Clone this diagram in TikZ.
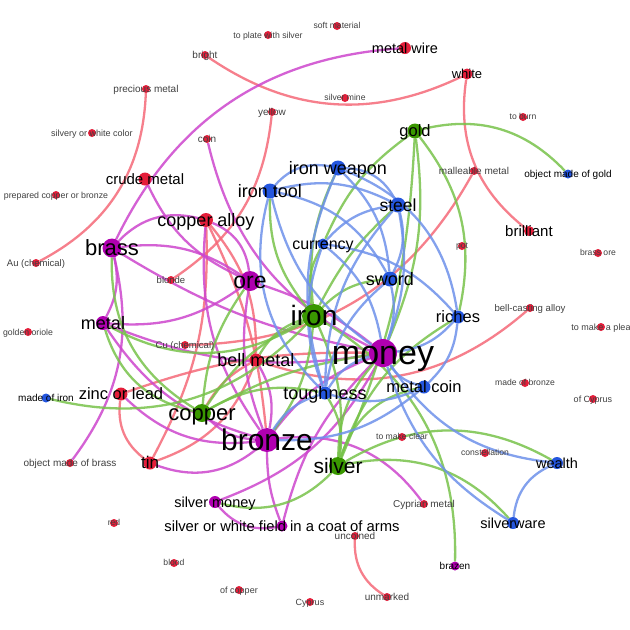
\documentclass[tikz,border=0pt]{standalone}
\usepackage{fontspec}
\setmainfont{Liberation Sans}
\definecolor{nR}{RGB}{228,30,58}
\definecolor{nM}{RGB}{176,0,176}
\definecolor{nG}{RGB}{58,152,0}
\definecolor{nB}{RGB}{36,86,222}
\definecolor{eR}{RGB}{245,105,120}
\definecolor{eM}{RGB}{205,70,205}
\definecolor{eG}{RGB}{120,195,75}
\definecolor{eB}{RGB}{110,145,235}
\pgfdeclarelayer{bg}\pgfdeclarelayer{fg}\pgfsetlayers{bg,main,fg}
\tikzset{
  lab/.style={inner sep=0pt,text=black},
  slab/.style={inner sep=0pt,text=black!75},
  edR/.style={draw=eR,line width=2.3pt,draw opacity=0.85},
  edM/.style={draw=eM,line width=2.3pt,draw opacity=0.85},
  edG/.style={draw=eG,line width=2.3pt,draw opacity=0.85},
  edB/.style={draw=eB,line width=2.3pt,draw opacity=0.85},
}
\newcommand\gnode[7]{%
  \node[circle,fill=#4,minimum size=#5pt,inner sep=0pt] (#1) at (#2,#3) {};
  \begin{pgfonlayer}{fg}\node[lab,font=\fontsize{#6}{#6}\selectfont,text height={0.905*#6pt},text depth={0.212*#6pt}] (#1-l) at (#2,#3) {#7};\end{pgfonlayer}}
\newcommand\snode[5]{%
  \node[circle,fill=nR,minimum size=8pt,inner sep=0pt] (#1) at (#2,#3) {};
  \begin{pgfonlayer}{fg}\node[slab,font=\fontsize{#4}{#4}\selectfont,text height={0.905*#4pt},text depth={0.212*#4pt}] (#1-l) at (#2,#3) {#5};\end{pgfonlayer}}
\begin{document}
\begin{tikzpicture}[x=1pt,y=-1pt]
\begin{pgfonlayer}{bg}
\fill[white] (0,0) rectangle (630,630);
\end{pgfonlayer}
\useasboundingbox (0,0) rectangle (630,630);
% big nodes
\gnode{money}{383}{353}{nM}{28}{34}{money}
\gnode{iron}{314}{316}{nG}{24}{28}{iron}
\gnode{bronze}{267}{440}{nM}{24}{30}{bronze}
\gnode{copper}{202}{413}{nG}{18}{22}{copper}
\gnode{silver}{338}{466}{nG}{18}{21}{silver}
\gnode{gold}{415}{131}{nG}{15}{16.5}{gold}
\gnode{ironweapon}{338}{168}{nB}{15}{18}{iron weapon}
\gnode{irontool}{270}{191}{nB}{15}{18}{iron tool}
\gnode{steel}{398}{205}{nB}{15}{17.5}{steel}
\gnode{currency}{323}{244}{nB}{11}{16}{currency}
\gnode{sword}{390}{279}{nB}{15}{18}{sword}
\gnode{riches}{458}{317}{nB}{13}{16.5}{riches}
\gnode{metalcoin}{424}{387}{nB}{13}{16.5}{metal coin}
\gnode{toughness}{325}{393}{nB}{13}{18}{toughness}
\gnode{wealth}{557}{463}{nB}{12}{14.5}{wealth}
\gnode{silverware}{513}{523}{nB}{12}{14.5}{silverware}
\gnode{objgold}{568}{174}{nB}{9}{10}{object made of gold}
\gnode{madeiron}{46}{398}{nB}{9}{10}{made of iron}
\gnode{brass}{112}{248}{nM}{19}{22}{brass}
\gnode{ore}{250}{281}{nM}{20}{23}{ore}
\gnode{metal}{103}{323}{nM}{14}{18}{metal}
\gnode{silvermoney}{215}{502}{nM}{12}{14.5}{silver money}
\gnode{field}{282}{526}{nM}{11}{14.8}{silver or white field in a coat of arms}
\gnode{brazen}{455}{566}{nM}{9}{10}{brazen}
\gnode{copperalloy}{206}{220}{nR}{14}{18}{copper alloy}
\gnode{crude}{145}{179}{nR}{13}{15}{crude metal}
\gnode{bellmetal}{256}{360}{nR}{13}{18}{bell metal}
\gnode{zinc}{121}{394}{nR}{13}{16.5}{zinc or lead}
\gnode{tin}{150}{463}{nR}{13}{17}{tin}
\gnode{metalwire}{405}{48}{nR}{12}{14.5}{metal wire}
\gnode{white}{467}{74}{nR}{11}{13}{white}
\gnode{brilliant}{529}{231}{nR}{10}{15}{brilliant}
% small nodes
\snode{blonde}{171}{280}{9.5}{blonde}
\snode{cu}{185}{345}{9.5}{Cu (chemical)}
\snode{au}{36}{263}{9.5}{Au (chemical)}
\snode{oriole}{28}{332}{8.7}{golden oriole}
\snode{prepared}{56}{195}{8.8}{prepared copper or bronze}
\snode{silvery}{92}{133}{9}{silvery or white color}
\snode{precious}{146}{89}{10}{precious metal}
\snode{bright}{205}{55}{10}{bright}
\snode{plate}{268}{35}{8.7}{to plate with silver}
\snode{soft}{337}{26}{8.6}{soft material}
\snode{silvermine}{345}{98}{8.6}{silver mine}
\snode{yellow}{272}{112}{10}{yellow}
\snode{coin}{207}{139}{10}{coin}
\snode{burn}{523}{117}{8.6}{to burn}
\snode{malleable}{474}{171}{10}{malleable metal}
\snode{pot}{462}{246}{8.6}{pot}
\snode{brassore}{598}{253}{8.6}{brass ore}
\snode{bellcasting}{530}{308}{9.6}{bell-casting alloy}
\snode{plea}{601}{327}{9}{to make a plea}
\snode{madebronze}{525}{383}{8.6}{made of bronze}
\snode{ofcyprus}{593}{399}{9}{of Cyprus}
\snode{makeclear}{402}{437}{8.6}{to make clear}
\snode{constellation}{485}{453}{8.6}{constellation}
\snode{cyprian}{424}{504}{10}{Cyprian metal}
\snode{uncoined}{355}{536}{10}{uncoined}
\snode{unmarked}{387}{597}{10}{unmarked}
\snode{red}{114}{523}{8.6}{red}
\snode{blood}{174}{563}{8.6}{blood}
\snode{ofcopper}{239}{590}{9}{of copper}
\snode{cyprus}{310}{602}{9}{Cyprus}
\snode{objbrass}{70}{463}{10}{object made of brass}
\begin{pgfonlayer}{bg}
% red edges
\draw[edR] (bright) to[bend right=30] (white);
\draw[edR] (precious) to[bend left=30] (au);
\draw[edR] (yellow) to[bend left=25] (blonde);
\draw[edR] (white) to[bend right=30] (brilliant);
\draw[edR] (uncoined) to[bend right=30] (unmarked);
\draw[edR] (malleable) to[bend left=30] (cu);
\draw[edR] (bellcasting) to[bend left=30] (bellmetal);
\draw[edR] (zinc) to[bend right=30] (tin);
\draw[edR] (tin) to[bend right=25] (bellmetal);
\draw[edR] (copperalloy) to[bend left=15] (tin);
\draw[edR] (copperalloy) to[bend left=10] (bronze);
\draw[edR] (copperalloy) to[bend left=20] (bellmetal);
\draw[edR] (bellmetal) to[bend right=15] (copper);
\draw[edR] (zinc) to[bend left=10] (money);
% magenta edges
\draw[edM] (brass) to[bend left=30] (metalwire);
\draw[edM] (brass) to[bend left=30] (copperalloy);
\draw[edM] (brass) to[bend left=20] (metal);
\draw[edM] (brass) to[bend left=20] (ore);
\draw[edM] (brass) to[bend right=10] (money);
\draw[edM] (brass) to[bend left=25] (objbrass);
\draw[edM] (ore) to[bend left=20] (crude);
\draw[edM] (coin) to[bend right=25] (money);
\draw[edM] (ore) to[bend left=20] (metal);
\draw[edM] (ore) to[bend left=10] (money);
\draw[edM] (ore) to[bend right=15] (bronze);
\draw[edM] (ore) to[bend right=30] (copperalloy);
\draw[edM] (bronze) to[bend left=30] (tin);
\draw[edM] (bronze) to[bend left=25] (zinc);
\draw[edM] (bronze) to[bend left=20] (copper);
\draw[edM] (bronze) to[bend right=20] (bellmetal);
\draw[edM] (bronze) to[bend left=20] (metal);
\draw[edM] (bronze) to[bend left=20] (copperalloy);
\draw[edM] (bronze) to[bend left=30] (cyprian);
\draw[edM] (bronze) to[bend right=10] (field);
\draw[edM] (bronze) to[bend left=15] (money);
\draw[edM] (field) to[bend left=15] (money);
\draw[edM] (metal) to[bend right=15] (money);
\draw[edM] (silvermoney) to[bend right=30] (field);
\draw[edM] (silvermoney) to[bend right=20] (money);
% green edges
\draw[edG] (gold) to[bend left=30] (objgold);
\draw[edG] (gold) to[bend right=15] (currency);
\draw[edG] (gold) to[bend left=25] (riches);
\draw[edG] (gold) to[bend left=15] (money);
\draw[edG] (gold) to[bend left=10] (silver);
\draw[edG] (iron) to[bend left=15] (ironweapon);
\draw[edG] (iron) to[bend left=20] (irontool);
\draw[edG] (iron) to[bend left=10] (steel);
\draw[edG] (iron) to[bend left=20] (currency);
\draw[edG] (iron) to[bend left=20] (sword);
\draw[edG] (iron) to[bend left=30] (metal);
\draw[edG] (iron) to[bend left=30] (madeiron);
\draw[edG] (iron) to[bend right=15] (copper);
\draw[edG] (iron) to[bend left=15] (bronze);
\draw[edG] (iron) to[bend left=15] (silver);
\draw[edG] (iron) to[bend left=30] (brazen);
\draw[edG] (iron) to[bend right=20] (bellmetal);
\draw[edG] (copper) to[bend left=30] (brass);
\draw[edG] (copper) to[bend left=30] (metal);
\draw[edG] (copper) to[bend left=15] (ore);
\draw[edG] (copper) to[bend left=10] (money);
\draw[edG] (copper) to[bend left=20] (toughness);
\draw[edG] (silver) to[bend left=20] (money);
\draw[edG] (silver) to[bend left=30] (silvermoney);
\draw[edG] (silver) to[bend left=30] (silverware);
\draw[edG] (silver) to[bend left=30] (wealth);
\draw[edG] (silver) to[bend left=30] (metalcoin);
\draw[edG] (silver) to[bend right=20] (toughness);
\draw[edG] (silver) to[bend left=20] (riches);
% blue edges
\draw[edB] (ironweapon) to[bend right=30] (irontool);
\draw[edB] (ironweapon) to[bend left=30] (steel);
\draw[edB] (ironweapon) to[bend left=20] (sword);
\draw[edB] (ironweapon) to[bend left=30] (riches);
\draw[edB] (ironweapon) to[bend right=20] (toughness);
\draw[edB] (irontool) to[bend left=20] (steel);
\draw[edB] (irontool) to[bend left=25] (sword);
\draw[edB] (irontool) to[bend right=30] (toughness);
\draw[edB] (irontool) to[bend right=20] (money);
\draw[edB] (steel) to[bend left=20] (sword);
\draw[edB] (steel) to[bend right=20] (currency);
\draw[edB] (steel) to[bend right=20] (toughness);
\draw[edB] (steel) to[bend left=15] (money);
\draw[edB] (currency) to[bend left=20] (riches);
\draw[edB] (currency) to[bend left=20] (money);
\draw[edB] (currency) to[bend right=20] (toughness);
\draw[edB] (sword) to[bend right=20] (toughness);
\draw[edB] (sword) to[bend left=15] (money);
\draw[edB] (riches) to[bend left=20] (money);
\draw[edB] (riches) to[bend left=20] (metalcoin);
\draw[edB] (metalcoin) to[bend left=20] (money);
\draw[edB] (metalcoin) to[bend left=20] (toughness);
\draw[edB] (metalcoin) to[bend left=20] (bronze);
\draw[edB] (toughness) to[bend left=20] (money);
\draw[edB] (wealth) to[bend left=25] (money);
\draw[edB] (wealth) to[bend right=30] (silverware);
\draw[edB] (silverware) to[bend left=20] (money);
\draw[edB] (toughness) to[bend right=20] (bronze);
\end{pgfonlayer}
\end{tikzpicture}
\end{document}
